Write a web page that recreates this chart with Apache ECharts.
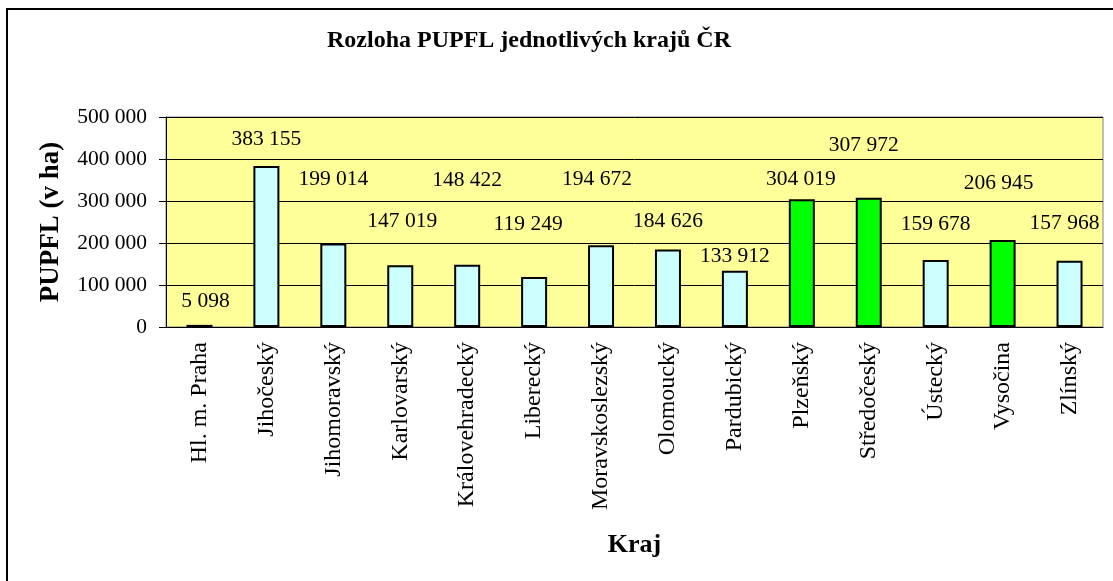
<!DOCTYPE html>
<html>
<head>
<meta charset="utf-8">
<script src="https://cdn.jsdelivr.net/npm/echarts@6/dist/echarts.min.js"></script>
<style>
  html, body { margin: 0; padding: 0; background: #fff; }
  #main { width: 1113px; height: 581px; }
</style>
</head>
<body>
<div id="main"></div>
<script>
var kraje = ['Hl. m. Praha', 'Jihočeský', 'Jihomoravský', 'Karlovarský', 'Královehradecký',
  'Liberecký', 'Moravskoslezský', 'Olomoucký', 'Pardubický', 'Plzeňský',
  'Středočeský', 'Ústecký', 'Vysočina', 'Zlínský'];
var rozloha = [5098, 383155, 199014, 147019, 148422, 119249, 194672, 184626, 133912,
  304019, 307972, 159678, 206945, 157968];
// kraje s vyznacenym (zelenym) sloupcem
var zvyraznene = ['Plzeňský', 'Středočeský', 'Vysočina'];
var yTicks = [0, 100000, 200000, 300000, 400000, 500000];

// rucne posunute popisky jako v puvodnim grafu [dx, dy]
var labelShift = [[6, -12], [0, -16], [0, -53], [2, -33], [0, -73], [-6, -42], [-4, -55],
  [0, -17], [0, -3], [-1, -9], [-5, -41], [0, -25], [-4, -46], [-5, -26]];

var serif = '"Liberation Serif", "Times New Roman", serif';

function fmt(v) {
  return String(v).replace(/\B(?=(\d{3})+(?!\d))/g, ' ');
}

var chart = echarts.init(document.getElementById('main'));

var barData = rozloha.map(function (v, i) {
  return {
    value: v,
    itemStyle: { color: zvyraznene.indexOf(kraje[i]) >= 0 ? '#00FF00' : '#CCFFFF' },
    label: { offset: labelShift[i] }
  };
});

chart.setOption({
  animation: false,
  title: {
    text: 'Rozloha PUPFL jednotlivých krajů ČR',
    left: 524,
    top: 24,
    textAlign: 'center',
    textStyle: { fontFamily: serif, fontWeight: 'bold', fontSize: 24, color: '#000' }
  },
  graphic: [{
    type: 'rect',
    shape: { x: 7, y: 9, width: 1200, height: 700 },
    style: { fill: 'none', stroke: '#000', lineWidth: 2 },
    silent: true
  }],
  grid: {
    left: 166, top: 117, right: 10, bottom: 254,
    show: true,
    backgroundColor: '#FFFF99',
    borderColor: '#808080',
    borderWidth: 1
  },
  xAxis: {
    type: 'category',
    data: kraje,
    name: 'Kraj',
    nameLocation: 'middle',
    nameGap: 205,
    nameTextStyle: { fontFamily: serif, fontWeight: 'bold', fontSize: 26, color: '#000' },
    axisLine: { lineStyle: { color: '#000', width: 1 } },
    axisTick: { length: 7, lineStyle: { color: '#000' } },
    axisLabel: {
      rotate: 90, margin: 15, interval: 0,
      fontFamily: serif, fontSize: 24, color: '#000'
    }
  },
  yAxis: {
    type: 'value',
    min: yTicks[0],
    max: yTicks[yTicks.length - 1],
    interval: yTicks[1] - yTicks[0],
    name: 'PUPFL (v ha)',
    nameLocation: 'middle',
    nameRotate: 90,
    nameGap: 101,
    nameTextStyle: { fontFamily: serif, fontWeight: 'bold', fontSize: 27, color: '#000' },
    axisLine: { show: true, lineStyle: { color: '#000', width: 1 } },
    axisTick: { show: true, length: 7, lineStyle: { color: '#000' } },
    splitLine: { lineStyle: { color: '#000', width: 1 } },
    axisLabel: {
      margin: 19, fontFamily: serif, fontSize: 21.5, color: '#000',
      formatter: function (v) { return fmt(v); }
    }
  },
  series: [{
    type: 'bar',
    data: barData,
    barWidth: 26,
    itemStyle: { borderColor: '#000', borderWidth: 2 },
    label: {
      show: true,
      position: 'top',
      distance: 0,
      fontFamily: serif,
      fontSize: 21.5,
      color: '#000',
      formatter: function (p) { return fmt(p.value); }
    }
  }]
});
</script>
</body>
</html>
